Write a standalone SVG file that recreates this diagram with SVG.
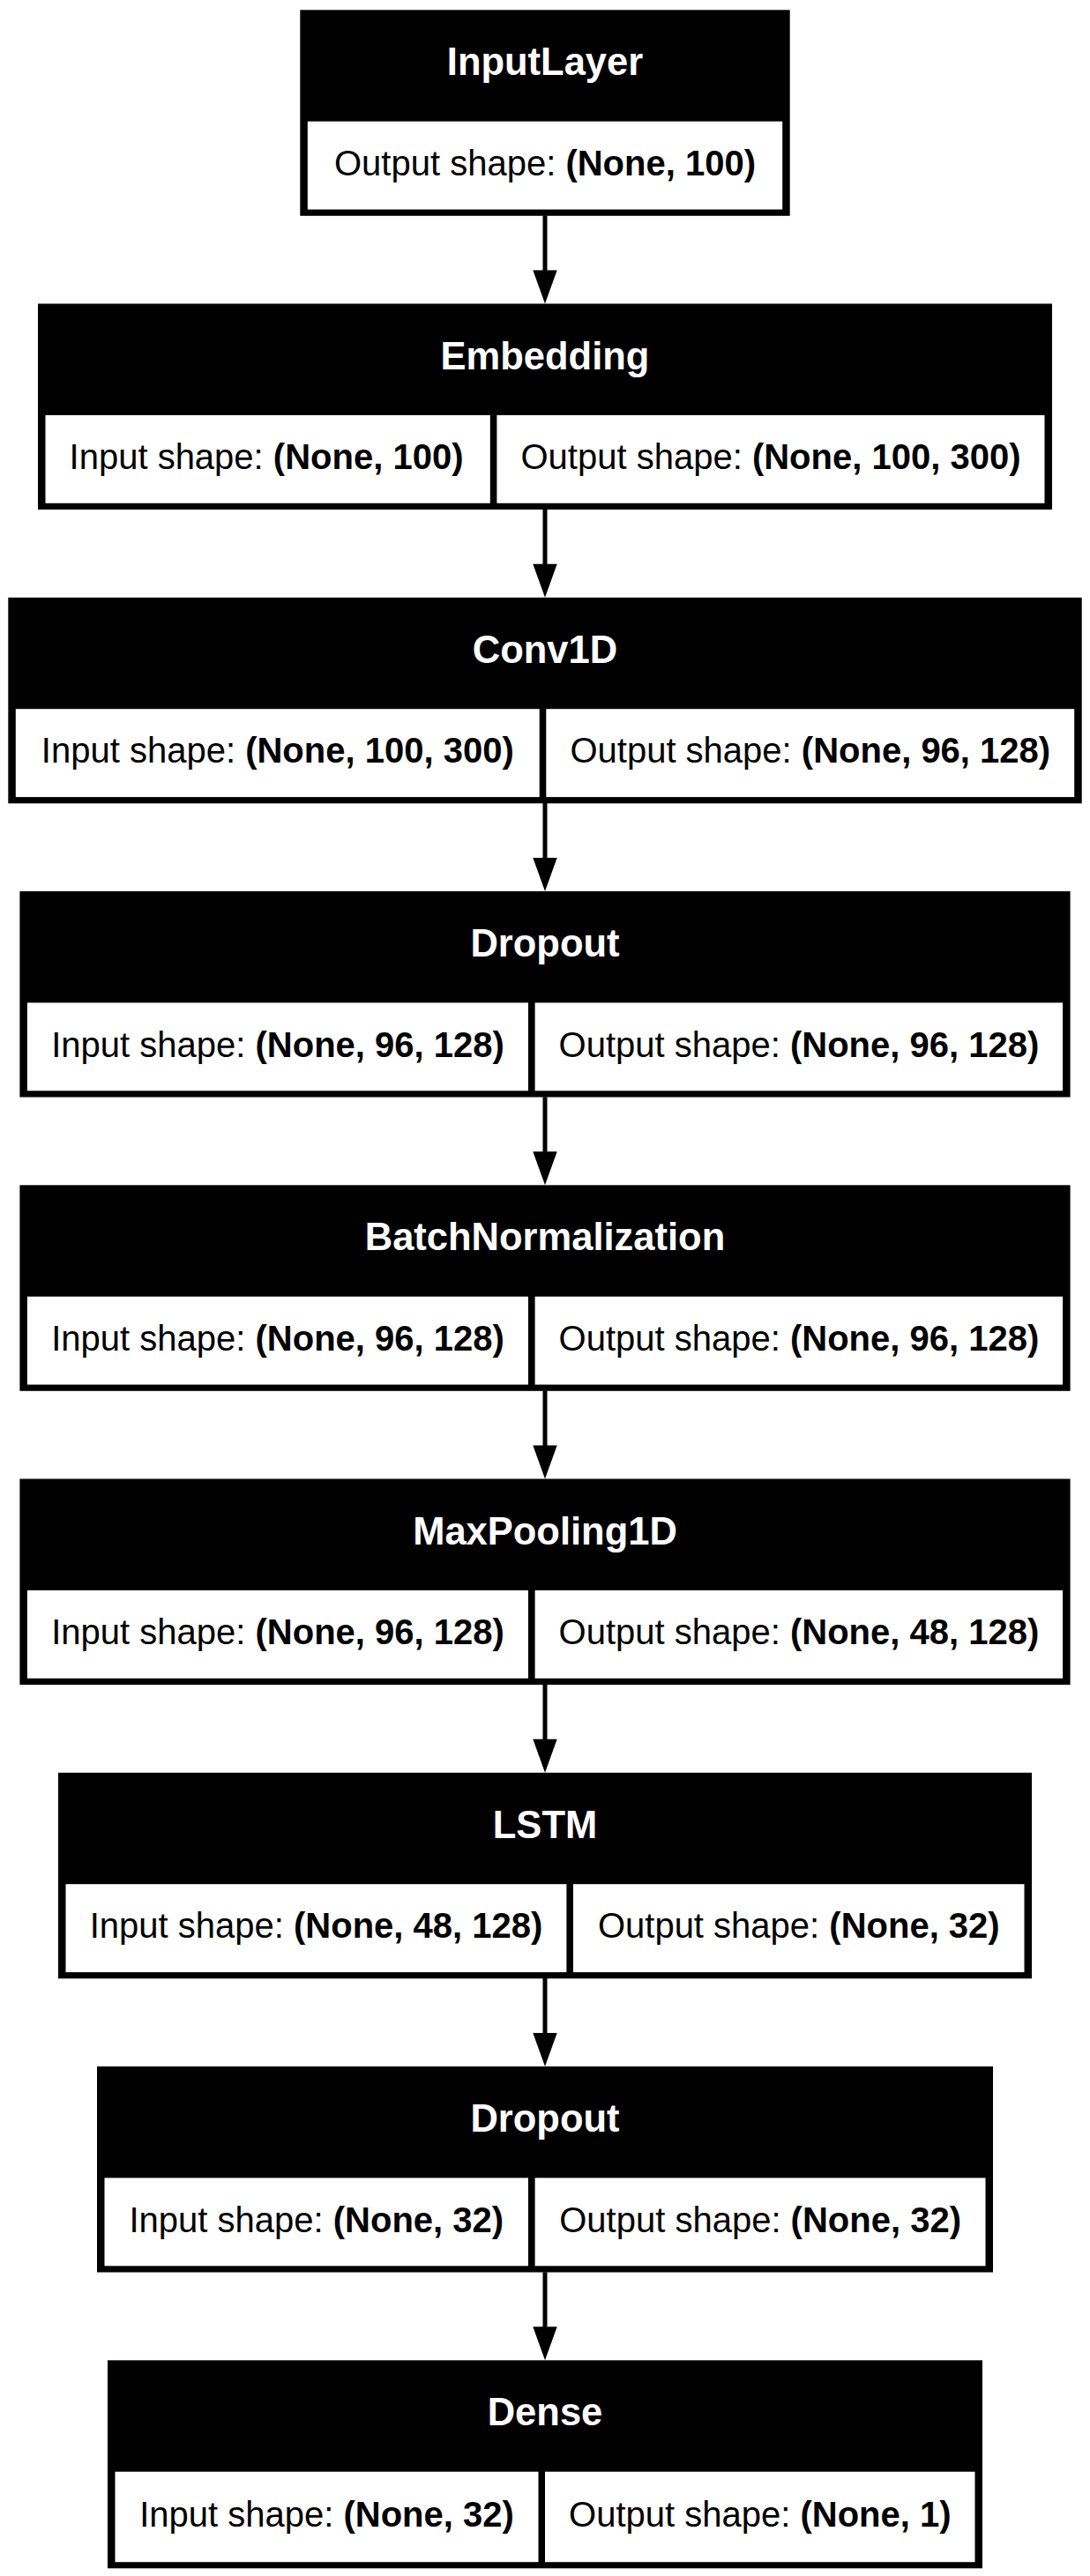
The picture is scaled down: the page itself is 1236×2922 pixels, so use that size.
<svg xmlns="http://www.w3.org/2000/svg" width="1236" height="2922" viewBox="0 0 1236 2922">
  <style>
    .frame { fill: #000000; }
    .cell { fill: #ffffff; }
    .title { font-family: "Liberation Sans", Arial, sans-serif; font-size: 43.5px; font-weight: bold; fill: #ffffff; text-anchor: middle; }
    .shape { font-family: "Liberation Sans", Arial, sans-serif; font-size: 40px; fill: #000000; text-anchor: middle; }
    .shape tspan.b { font-weight: bold; }
    .edge { stroke: #000000; stroke-width: 5; fill: none; }
    .head { fill: #000000; stroke: none; }
  </style>
  <rect width="1236" height="2922" fill="#ffffff"/>

  <!-- layer nodes -->
  <g id="node-inputlayer">
    <rect class="frame" x="340.3" y="11.3" width="555.4" height="233.5"/>
    <rect class="cell" x="348.8" y="137.7" width="538.4" height="99.9"/>
    <text class="title" x="618" y="85.3">InputLayer</text>
    <text class="shape" x="618" y="198.8">Output shape: <tspan class="b">(None, 100)</tspan></text>
  </g>

  <g id="node-embedding">
    <rect class="frame" x="43" y="344.5" width="1150" height="233.5"/>
    <rect class="cell" x="51.5" y="470.9" width="504.3" height="99.9"/>
    <rect class="cell" x="563.4" y="470.9" width="621.1" height="99.9"/>
    <text class="title" x="618" y="418.5">Embedding</text>
    <text class="shape" x="302" y="532">Input shape: <tspan class="b">(None, 100)</tspan></text>
    <text class="shape" x="874" y="532">Output shape: <tspan class="b">(None, 100, 300)</tspan></text>
  </g>

  <g id="node-conv1d">
    <rect class="frame" x="9.3" y="677.8" width="1217.4" height="233.5"/>
    <rect class="cell" x="17.8" y="804.2" width="593.9" height="99.9"/>
    <rect class="cell" x="619.3" y="804.2" width="598.9" height="99.9"/>
    <text class="title" x="618" y="751.8">Conv1D</text>
    <text class="shape" x="314.8" y="865.3">Input shape: <tspan class="b">(None, 100, 300)</tspan></text>
    <text class="shape" x="918.8" y="865.3">Output shape: <tspan class="b">(None, 96, 128)</tspan></text>
  </g>

  <g id="node-dropout-1">
    <rect class="frame" x="22.4" y="1011" width="1191.2" height="233.5"/>
    <rect class="cell" x="30.9" y="1137.4" width="568.1" height="99.9"/>
    <rect class="cell" x="606.6" y="1137.4" width="598.5" height="99.9"/>
    <text class="title" x="618" y="1085">Dropout</text>
    <text class="shape" x="315" y="1198.5">Input shape: <tspan class="b">(None, 96, 128)</tspan></text>
    <text class="shape" x="905.9" y="1198.5">Output shape: <tspan class="b">(None, 96, 128)</tspan></text>
  </g>

  <g id="node-batchnorm">
    <rect class="frame" x="22.4" y="1344.3" width="1191.2" height="233.5"/>
    <rect class="cell" x="30.9" y="1470.7" width="568.1" height="99.9"/>
    <rect class="cell" x="606.6" y="1470.7" width="598.5" height="99.9"/>
    <text class="title" x="618" y="1418.3">BatchNormalization</text>
    <text class="shape" x="315" y="1531.8">Input shape: <tspan class="b">(None, 96, 128)</tspan></text>
    <text class="shape" x="905.9" y="1531.8">Output shape: <tspan class="b">(None, 96, 128)</tspan></text>
  </g>

  <g id="node-maxpool">
    <rect class="frame" x="22.4" y="1677.5" width="1191.2" height="233.5"/>
    <rect class="cell" x="30.9" y="1803.9" width="568.1" height="99.9"/>
    <rect class="cell" x="606.6" y="1803.9" width="598.5" height="99.9"/>
    <text class="title" x="618" y="1751.5">MaxPooling1D</text>
    <text class="shape" x="315" y="1865">Input shape: <tspan class="b">(None, 96, 128)</tspan></text>
    <text class="shape" x="905.9" y="1865">Output shape: <tspan class="b">(None, 48, 128)</tspan></text>
  </g>

  <g id="node-lstm">
    <rect class="frame" x="66" y="2010.8" width="1104" height="233.5"/>
    <rect class="cell" x="74.5" y="2137.2" width="567.9" height="99.9"/>
    <rect class="cell" x="650" y="2137.2" width="511.5" height="99.9"/>
    <text class="title" x="618" y="2084.8">LSTM</text>
    <text class="shape" x="358.5" y="2198.3">Input shape: <tspan class="b">(None, 48, 128)</tspan></text>
    <text class="shape" x="905.8" y="2198.3">Output shape: <tspan class="b">(None, 32)</tspan></text>
  </g>

  <g id="node-dropout-2">
    <rect class="frame" x="110" y="2344" width="1016" height="233.5"/>
    <rect class="cell" x="118.5" y="2470.4" width="480.5" height="99.9"/>
    <rect class="cell" x="606.6" y="2470.4" width="510.9" height="99.9"/>
    <text class="title" x="618" y="2418">Dropout</text>
    <text class="shape" x="358.8" y="2531.5">Input shape: <tspan class="b">(None, 32)</tspan></text>
    <text class="shape" x="862.1" y="2531.5">Output shape: <tspan class="b">(None, 32)</tspan></text>
  </g>

  <g id="node-dense">
    <rect class="frame" x="122" y="2677.3" width="992" height="236"/>
    <rect class="cell" x="130.5" y="2803.7" width="480" height="102.5"/>
    <rect class="cell" x="618" y="2803.7" width="487.5" height="102.5"/>
    <text class="title" x="618" y="2751.3">Dense</text>
    <text class="shape" x="370.5" y="2865.5">Input shape: <tspan class="b">(None, 32)</tspan></text>
    <text class="shape" x="861.8" y="2865.5">Output shape: <tspan class="b">(None, 1)</tspan></text>
  </g>

  <!-- connectors -->
  <g id="edges">
    <line class="edge" x1="618" y1="244.5" x2="618" y2="307"/>
    <polygon class="head" points="604.3,306.5 631.7,306.5 618,344.5"/>
    <line class="edge" x1="618" y1="577.8" x2="618" y2="640.3"/>
    <polygon class="head" points="604.3,639.8 631.7,639.8 618,677.8"/>
    <line class="edge" x1="618" y1="911" x2="618" y2="973.5"/>
    <polygon class="head" points="604.3,973 631.7,973 618,1011"/>
    <line class="edge" x1="618" y1="1244.3" x2="618" y2="1306.8"/>
    <polygon class="head" points="604.3,1306.3 631.7,1306.3 618,1344.3"/>
    <line class="edge" x1="618" y1="1577.5" x2="618" y2="1640"/>
    <polygon class="head" points="604.3,1639.5 631.7,1639.5 618,1677.5"/>
    <line class="edge" x1="618" y1="1910.8" x2="618" y2="1973.3"/>
    <polygon class="head" points="604.3,1972.8 631.7,1972.8 618,2010.8"/>
    <line class="edge" x1="618" y1="2244" x2="618" y2="2306.5"/>
    <polygon class="head" points="604.3,2306 631.7,2306 618,2344"/>
    <line class="edge" x1="618" y1="2577.3" x2="618" y2="2639.8"/>
    <polygon class="head" points="604.3,2639.3 631.7,2639.3 618,2677.3"/>
  </g>
</svg>
